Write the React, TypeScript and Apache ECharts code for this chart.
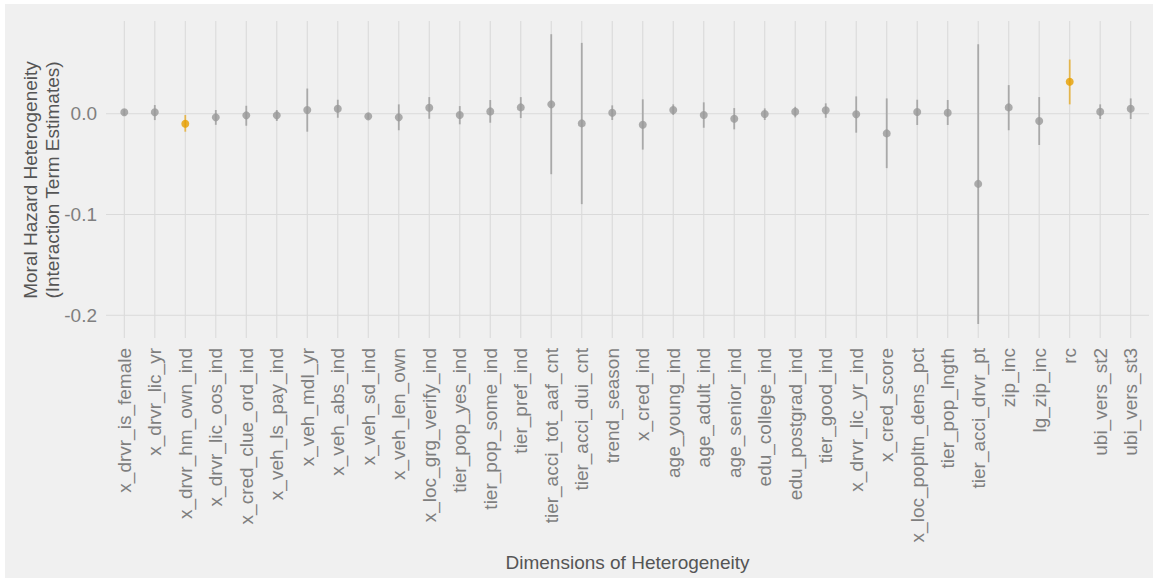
import React, { useEffect, useRef } from "react";
import * as echarts from "echarts";

const categories = [
  "x_drvr_is_female", "x_drvr_lic_yr", "x_drvr_hm_own_ind", "x_drvr_lic_oos_ind",
  "x_cred_clue_ord_ind", "x_veh_ls_pay_ind", "x_veh_mdl_yr", "x_veh_abs_ind",
  "x_veh_sd_ind", "x_veh_len_own", "x_loc_grg_verify_ind", "tier_pop_yes_ind",
  "tier_pop_some_ind", "tier_pref_ind", "tier_acci_tot_aaf_cnt", "tier_acci_dui_cnt",
  "trend_season", "x_cred_ind", "age_young_ind", "age_adult_ind", "age_senior_ind",
  "edu_college_ind", "edu_postgrad_ind", "tier_good_ind", "x_drvr_lic_yr_ind",
  "x_cred_score", "x_loc_popltn_dens_pct", "tier_pop_lngth", "tier_acci_drvr_pt",
  "zip_inc", "lg_zip_inc", "rc", "ubi_vers_st2", "ubi_vers_st3",
];

const estimates = [
  0.0014, 0.0014, -0.0099, -0.0036, -0.0016, -0.0016, 0.0037, 0.005,
  -0.0026, -0.0036, 0.006, -0.0013, 0.0023, 0.0063, 0.0093, -0.0096,
  0.001, -0.0109, 0.0037, -0.0013, -0.005, -0.0003, 0.002, 0.0034,
  -0.0006, -0.0195, 0.0017, 0.001, -0.0696, 0.0063, -0.0072, 0.0317,
  0.002, 0.005,
];

const lower = [
  -0.0015, -0.0063, -0.0178, -0.011, -0.0119, -0.0072, -0.0178, -0.004,
  -0.0055, -0.0164, -0.005, -0.0105, -0.0089, -0.0043, -0.06, -0.0897,
  -0.0062, -0.0356, -0.0013, -0.0139, -0.0155, -0.0062, -0.0036, -0.004,
  -0.0188, -0.054, -0.0112, -0.0112, -0.2085, -0.0164, -0.031, 0.0093,
  -0.0052, -0.0052,
];

const upper = [
  0.0043, 0.0086, -0.0013, 0.0037, 0.0079, 0.0037, 0.025, 0.0139,
  0.0003, 0.0093, 0.0165, 0.0076, 0.0136, 0.0165, 0.0789, 0.0703,
  0.0083, 0.0143, 0.0093, 0.0113, 0.0056, 0.0053, 0.0069, 0.0103,
  0.0172, 0.0152, 0.0139, 0.0136, 0.069, 0.0284, 0.0165, 0.0538,
  0.0093, 0.0152,
];

const highlighted = ["x_drvr_hm_own_ind", "rc"];

const yTicks = [-0.2, -0.1, 0.0];

const FONT = '"Liberation Sans", Arial, Helvetica, sans-serif';
const BG = "#f0f0f0";
const GRID = "#dadada";
const GREY = "#999999";
const GREY_BAR = "#a9a9a9";
const ORANGE = "#E69F00";
const ORANGE_BAR = "rgba(230,159,0,0.65)";
const TICK = "#7f7f7f";
const TITLE = "#555555";

export default function App() {
  const ref = useRef<HTMLDivElement>(null);

  useEffect(() => {
    if (!ref.current) return;
    const chart = echarts.init(ref.current, undefined, { renderer: "svg" });
    const idx = categories.map((_, i) => i);
    const isHi = (i: number) => highlighted.indexOf(categories[i]) >= 0;

    const option: any = {
      animation: false,
      backgroundColor: BG,
      grid: { left: 101, right: 4, top: 17, bottom: 240, containLabel: false },
      xAxis: {
        type: "value",
        min: -0.6,
        max: 33.6,
        axisLine: { show: false },
        axisTick: { show: false },
        splitLine: { show: false },
        axisLabel: {
          customValues: idx,
          formatter: (v: number) => categories[Math.round(v)] ?? "",
          rotate: 90,
          margin: 10,
          fontSize: 19,
          fontFamily: FONT,
          color: TICK,
        },
      },
      yAxis: {
        type: "value",
        min: -0.2225,
        max: 0.092,
        axisLine: { show: false },
        axisTick: { show: false },
        splitLine: { show: false },
        axisLabel: {
          customValues: yTicks,
          formatter: (v: number) => v.toFixed(1),
          margin: 9,
          fontSize: 19,
          fontFamily: FONT,
          color: TICK,
        },
      },
      graphic: [
        {
          type: "text",
          x: 36,
          y: 176,
          rotation: Math.PI / 2,
          style: {
            text: "Moral Hazard Heterogeneity\n(Interaction Term Estimates)",
            textAlign: "center",
            textVerticalAlign: "middle",
            fontSize: 19,
            lineHeight: 22,
            fontFamily: FONT,
            fill: TITLE,
          },
        },
        {
          type: "text",
          x: 622.5,
          y: 558,
          style: {
            text: "Dimensions of Heterogeneity",
            textAlign: "center",
            textVerticalAlign: "middle",
            fontSize: 19,
            fontFamily: FONT,
            fill: TITLE,
          },
        },
      ],
      series: [
        {
          type: "custom",
          z: 1,
          silent: true,
          data: idx.map((i) => [i, 0]),
          renderItem: (params: any, api: any) => {
            const cs = params.coordSys;
            const p = api.coord([api.value(0), 0]);
            return {
              type: "line",
              shape: { x1: p[0], y1: cs.y, x2: p[0], y2: cs.y + cs.height },
              style: { stroke: GRID, lineWidth: 1.1 },
            };
          },
        },
        {
          type: "custom",
          z: 1,
          silent: true,
          data: yTicks.map((v) => [0, v]),
          renderItem: (params: any, api: any) => {
            const cs = params.coordSys;
            const p = api.coord([0, api.value(1)]);
            return {
              type: "line",
              shape: { x1: cs.x, y1: p[1], x2: cs.x + cs.width, y2: p[1] },
              style: { stroke: GRID, lineWidth: 1.1 },
            };
          },
        },
        {
          type: "custom",
          z: 2,
          silent: true,
          data: idx.map((i) => [i, lower[i], upper[i], isHi(i) ? 1 : 0]),
          renderItem: (params: any, api: any) => {
            const x = api.value(0);
            const p1 = api.coord([x, api.value(1)]);
            const p2 = api.coord([x, api.value(2)]);
            return {
              type: "line",
              shape: { x1: p1[0], y1: p1[1], x2: p2[0], y2: p2[1] },
              style: {
                stroke: api.value(3) ? ORANGE_BAR : GREY_BAR,
                lineWidth: 1.8,
              },
            };
          },
        },
        {
          type: "scatter",
          z: 3,
          symbolSize: 8,
          data: idx.map((i) => ({
            value: [i, estimates[i]],
            itemStyle: { color: isHi(i) ? ORANGE : GREY },
          })),
        },
      ],
    };

    chart.setOption(option);
    return () => chart.dispose();
  }, []);

  return (
    <div
      ref={ref}
      style={{
        position: "absolute",
        left: 5,
        top: 4,
        width: 1148,
        height: 574,
        background: BG,
      }}
    />
  );
}
